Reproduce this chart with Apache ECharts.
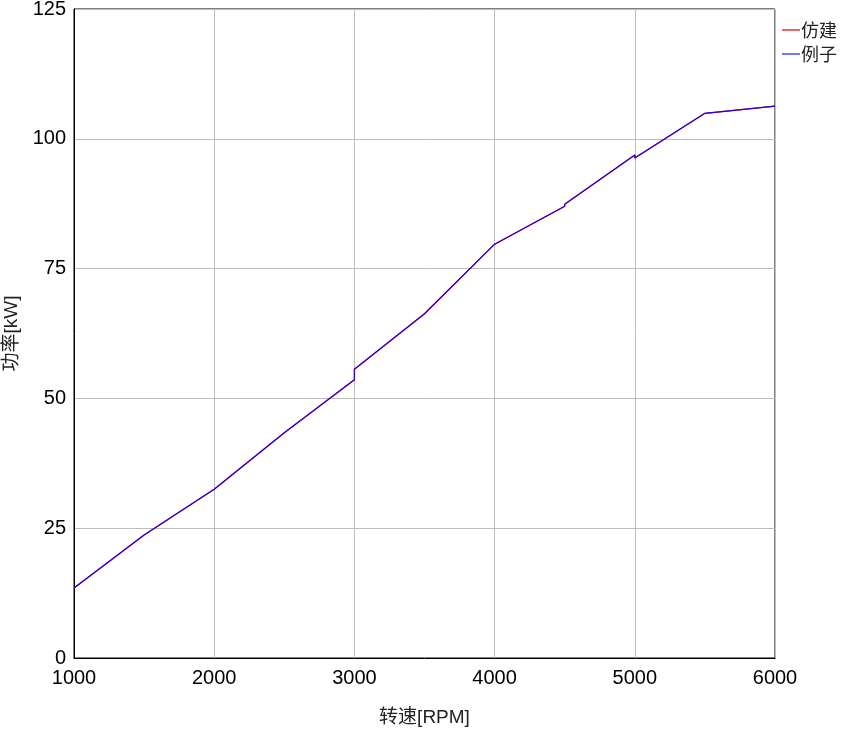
<!DOCTYPE html>
<html>
<head>
<meta charset="utf-8">
<script src="https://cdn.jsdelivr.net/npm/echarts@6/dist/echarts.min.js"></script>
<style>html,body{margin:0;padding:0;background:#fff}#c{width:845px;height:734px}</style>
</head>
<body>
<div id="c"></div>
<script>
const seriesNames = ['仿建', '例子'];
const rpm = [1000, 1500, 1500, 2000, 2500, 2500, 3000, 3000, 3500, 3500, 4000, 4500, 4500, 5000, 5000, 5500, 6000];
const powerRef = [13.5, 23.7, 23.8, 32.5, 43.4, 43.6, 53.6, 55.6, 66.3, 66.0, 79.7, 87.0, 87.4, 96.9, 96.3, 104.9, 106.3];
const powerExample = [13.5, 23.7, 23.8, 32.5, 43.4, 43.6, 53.6, 55.6, 66.3, 66.0, 79.7, 87.0, 87.4, 96.9, 96.3, 104.9, 106.3];
const xTicks = [1000, 6000, 1000];
const yTicks = [0, 125, 25];

const chart = echarts.init(document.getElementById('c'));
const font = '"Liberation Sans", Arial, "Noto Sans CJK SC", sans-serif';
chart.setOption({
  animation: false,
  backgroundColor: '#fff',
  grid: { left: 74, right: 70, top: 9, bottom: 76, outerBoundsMode: 'none', containLabel: false,
          show: true, borderColor: '#000', borderWidth: 1, backgroundColor: 'transparent' },
  legend: {
    orient: 'vertical', right: 3, top: 16, itemGap: 6,
    icon: 'rect', itemWidth: 18, itemHeight: 1.2,
    textStyle: { fontSize: 18, color: '#222', fontFamily: '"Noto Sans CJK SC", sans-serif', padding: [0, 0, 0, -4] },
    data: seriesNames
  },
  xAxis: {
    type: 'value', min: xTicks[0], max: xTicks[1], interval: xTicks[2],
    name: '转速[RPM]', nameLocation: 'middle', nameGap: 50,
    nameTextStyle: { fontSize: 19, color: '#222', fontFamily: font },
    axisLine: { show: true, lineStyle: { color: '#000' } },
    axisTick: { show: false },
    axisLabel: { fontSize: 20, color: '#000', fontFamily: font, margin: 10, formatter: v => String(v) },
    splitLine: { show: true, lineStyle: { color: '#bdbdbd', width: 1 } }
  },
  yAxis: {
    type: 'value', min: yTicks[0], max: yTicks[1], interval: yTicks[2],
    name: '功率[kW]', nameLocation: 'middle', nameGap: 47, nameRotate: 90,
    nameTextStyle: { fontSize: 19, color: '#222', fontFamily: font },
    axisLine: { show: true, lineStyle: { color: '#000' } },
    axisTick: { show: false },
    axisLabel: { fontSize: 20, color: '#000', fontFamily: font, margin: 8, formatter: v => String(v) },
    splitLine: { show: true, lineStyle: { color: '#bdbdbd', width: 1 } }
  },
  series: [
    { name: seriesNames[0], type: 'line', symbol: 'none', color: '#e00000', lineStyle: { width: 1.2, color: '#e00000' },
      data: rpm.map((x, i) => [x, powerRef[i]]) },
    { name: seriesNames[1], type: 'line', symbol: 'none', color: '#1a1aff', lineStyle: { width: 1.2, color: '#2200ee' },
      data: rpm.map((x, i) => [x, powerExample[i]]) }
  ]
});
</script>
</body>
</html>
